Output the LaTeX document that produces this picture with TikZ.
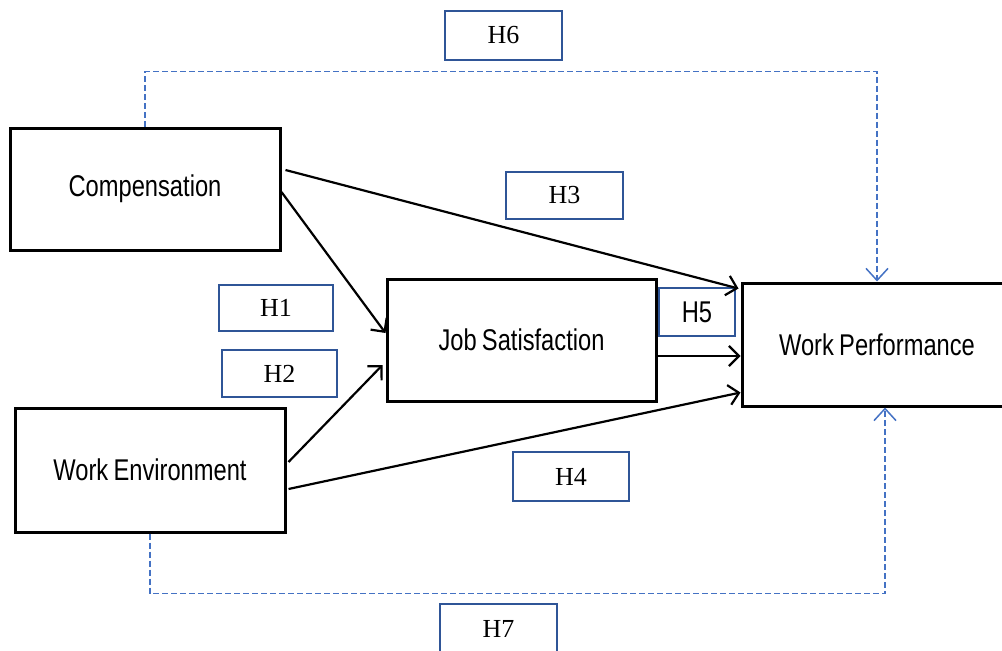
\documentclass[tikz,border=0pt]{standalone}
\usepackage{fontspec}
\setmainfont{Liberation Serif}
\newfontfamily\sansf{Liberation Sans}[FakeStretch=0.79,WordSpace=0.8]
\usetikzlibrary{arrows.meta}
\definecolor{hblue}{HTML}{2F5597}
\definecolor{dblue}{HTML}{4472C4}
\tikzset{
  varbox/.style={draw=black, line width=3pt, minimum width=#1, inner sep=0pt,
    font=\sansf\fontsize{30}{34}\selectfont},
  hbox/.style={draw=hblue, line width=2.2pt, inner sep=0pt,
    font=\fontsize{26}{30}\selectfont},
  arr/.style={draw=black, line width=2.2pt, -{Straight Barb[length=10pt,width=20pt,line width=2.2pt]}},
  dsh/.style={draw=dblue, line width=1.5pt, dash pattern=on 6pt off 3pt,
    -{Straight Barb[length=12pt,width=22pt,line width=1.5pt]}},
}
\begin{document}
\begin{tikzpicture}[x=1pt,y=-1pt]
\useasboundingbox (0,0) rectangle (1002,651);
\clip (0,0) rectangle (1002,651);
% variable boxes
\node[varbox=270pt, minimum height=122pt] (comp) at (145,189) {Compensation};
\node[varbox=270pt, minimum height=124pt] (we) at (150,470) {Work Environment};
\node[varbox=269pt, minimum height=122pt] (js) at (521.5,340) {Job Satisfaction};
\node[varbox=270pt, minimum height=123pt] (wp) at (877,344.5) {Work Performance};
% hypothesis labels
\node[hbox, minimum width=117pt, minimum height=49pt] (h6) at (503.5,35.5) {H6};
\node[hbox, minimum width=117pt, minimum height=47pt] (h3) at (564.5,195.5) {H3};
\node[hbox, minimum width=114pt, minimum height=46pt] (h1) at (276,308) {H1};
\node[hbox, minimum width=115pt, minimum height=47pt] (h2) at (279.5,373.5) {H2};
\node[hbox, minimum width=76pt, minimum height=48pt, font=\sansf\fontsize{30}{34}\selectfont] (h5) at (697,312) {H5};
\node[hbox, minimum width=116pt, minimum height=49pt] (h4) at (571,476.5) {H4};
\node[hbox, minimum width=117pt, minimum height=49pt] (h7) at (498.5,628.5) {H7};
% connectors
\draw[arr] ([xshift=4pt,yshift=19pt]comp.east) -- ([xshift=-2pt,yshift=-7pt]wp.north west);
\draw[arr] ([yshift=-3pt]comp.east) -- ([yshift=7pt]js.west);
\draw[arr] ([xshift=2pt,yshift=8pt]we.east) -- ([xshift=-3pt,yshift=-25pt]js.west);
\draw[arr] ([xshift=2pt,yshift=-19pt]we.east) -- ([yshift=-48pt]wp.west);
\draw[arr] ([yshift=-16pt]js.east) -- ([yshift=-16pt]js.east -| wp.west);
% dashed paths
\draw[dsh] (comp.north) -- ++(0,-55) -| (wp.north);
\draw[dsh] (we.south) -- ++(0,60) -| ([xshift=8pt]wp.south);
\end{tikzpicture}
\end{document}
